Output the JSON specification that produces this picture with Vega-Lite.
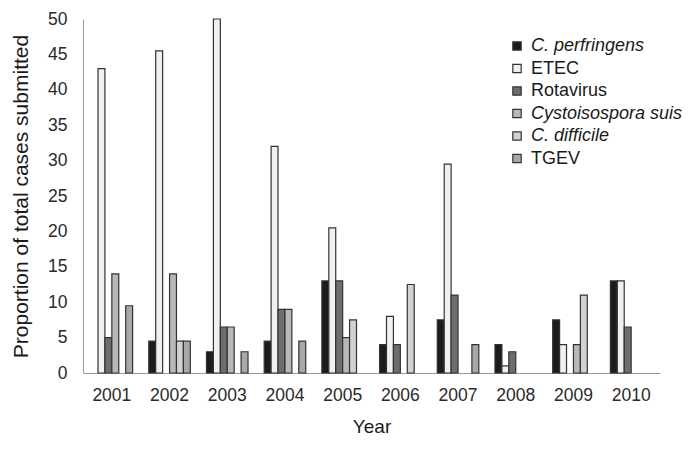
{
  "$schema": "https://vega.github.io/schema/vega-lite/v6.json",
  "width": 577,
  "height": 354,
  "autosize": "none",
  "padding": {"left": 83, "top": 19, "right": 31, "bottom": 76},
  "background": "white",
  "config": {
    "font": "Liberation Sans",
    "view": {"stroke": null},
    "axis": {"labelColor": "#2a2a2a", "titleColor": "#1a1a1a", "domainColor": "#9a9a9a", "grid": false, "ticks": false, "labelFontSize": 17.5, "titleFontSize": 19, "titleFontWeight": "normal"}
  },
  "data": {
    "values": [
      {"year": "2001", "agent": "ETEC", "value": 43},
      {"year": "2001", "agent": "Rotavirus", "value": 5},
      {"year": "2001", "agent": "Cystoisospora suis", "value": 14},
      {"year": "2001", "agent": "TGEV", "value": 9.5},
      {"year": "2002", "agent": "C. perfringens", "value": 4.5},
      {"year": "2002", "agent": "ETEC", "value": 45.5},
      {"year": "2002", "agent": "Cystoisospora suis", "value": 14},
      {"year": "2002", "agent": "C. difficile", "value": 4.5},
      {"year": "2002", "agent": "TGEV", "value": 4.5},
      {"year": "2003", "agent": "C. perfringens", "value": 3},
      {"year": "2003", "agent": "ETEC", "value": 50},
      {"year": "2003", "agent": "Rotavirus", "value": 6.5},
      {"year": "2003", "agent": "Cystoisospora suis", "value": 6.5},
      {"year": "2003", "agent": "TGEV", "value": 3},
      {"year": "2004", "agent": "C. perfringens", "value": 4.5},
      {"year": "2004", "agent": "ETEC", "value": 32},
      {"year": "2004", "agent": "Rotavirus", "value": 9},
      {"year": "2004", "agent": "Cystoisospora suis", "value": 9},
      {"year": "2004", "agent": "TGEV", "value": 4.5},
      {"year": "2005", "agent": "C. perfringens", "value": 13},
      {"year": "2005", "agent": "ETEC", "value": 20.5},
      {"year": "2005", "agent": "Rotavirus", "value": 13},
      {"year": "2005", "agent": "Cystoisospora suis", "value": 5},
      {"year": "2005", "agent": "C. difficile", "value": 7.5},
      {"year": "2006", "agent": "C. perfringens", "value": 4},
      {"year": "2006", "agent": "ETEC", "value": 8},
      {"year": "2006", "agent": "Rotavirus", "value": 4},
      {"year": "2006", "agent": "C. difficile", "value": 12.5},
      {"year": "2007", "agent": "C. perfringens", "value": 7.5},
      {"year": "2007", "agent": "ETEC", "value": 29.5},
      {"year": "2007", "agent": "Rotavirus", "value": 11},
      {"year": "2007", "agent": "TGEV", "value": 4},
      {"year": "2008", "agent": "C. perfringens", "value": 4},
      {"year": "2008", "agent": "ETEC", "value": 1},
      {"year": "2008", "agent": "Rotavirus", "value": 3},
      {"year": "2009", "agent": "C. perfringens", "value": 7.5},
      {"year": "2009", "agent": "ETEC", "value": 4},
      {"year": "2009", "agent": "Cystoisospora suis", "value": 4},
      {"year": "2009", "agent": "C. difficile", "value": 11},
      {"year": "2010", "agent": "C. perfringens", "value": 13},
      {"year": "2010", "agent": "ETEC", "value": 13},
      {"year": "2010", "agent": "Rotavirus", "value": 6.5}
    ]
  },
  "mark": {"type": "bar", "stroke": "#333", "strokeWidth": 1.2},
  "encoding": {
    "x": {
      "field": "year", "type": "nominal", "title": "Year",
      "scale": {"paddingInner": 0.28, "paddingOuter": 0.14},
      "axis": {"labelAngle": 0, "labelPadding": 13, "titlePadding": 14}
    },
    "xOffset": {
      "field": "agent", "type": "nominal",
      "scale": {"domain": ["C. perfringens", "ETEC", "Rotavirus", "Cystoisospora suis", "C. difficile", "TGEV"]}
    },
    "y": {
      "field": "value", "type": "quantitative", "title": "Proportion of total cases submitted",
      "scale": {"domain": [0, 50], "nice": false},
      "axis": {"values": [0, 5, 10, 15, 20, 25, 30, 35, 40, 45, 50], "labelPadding": 16, "titlePadding": 16, "titleFontSize": 21}
    },
    "color": {
      "field": "agent", "type": "nominal",
      "scale": {
        "domain": ["C. perfringens", "ETEC", "Rotavirus", "Cystoisospora suis", "C. difficile", "TGEV"],
        "range": ["#1c1c1c", "#f0f0f0", "#6e6e6e", "#b8b8b8", "#d2d2d2", "#a8a8a8"]
      },
      "legend": {
        "title": null,
        "orient": "none",
        "legendX": 425,
        "legendY": 18,
        "symbolType": "square",
        "symbolSize": 70,
        "symbolStrokeColor": "#333",
        "symbolStrokeWidth": 1.2,
        "labelFontSize": 18,
        "labelColor": "#1a1a1a",
        "rowPadding": 4.5,
        "labelOffset": 5,
        "encode": {
          "labels": {
            "update": {
              "fontStyle": {"signal": "datum.label == 'ETEC' || datum.label == 'Rotavirus' || datum.label == 'TGEV' ? 'normal' : 'italic'"}
            }
          }
        }
      }
    }
  }
}
